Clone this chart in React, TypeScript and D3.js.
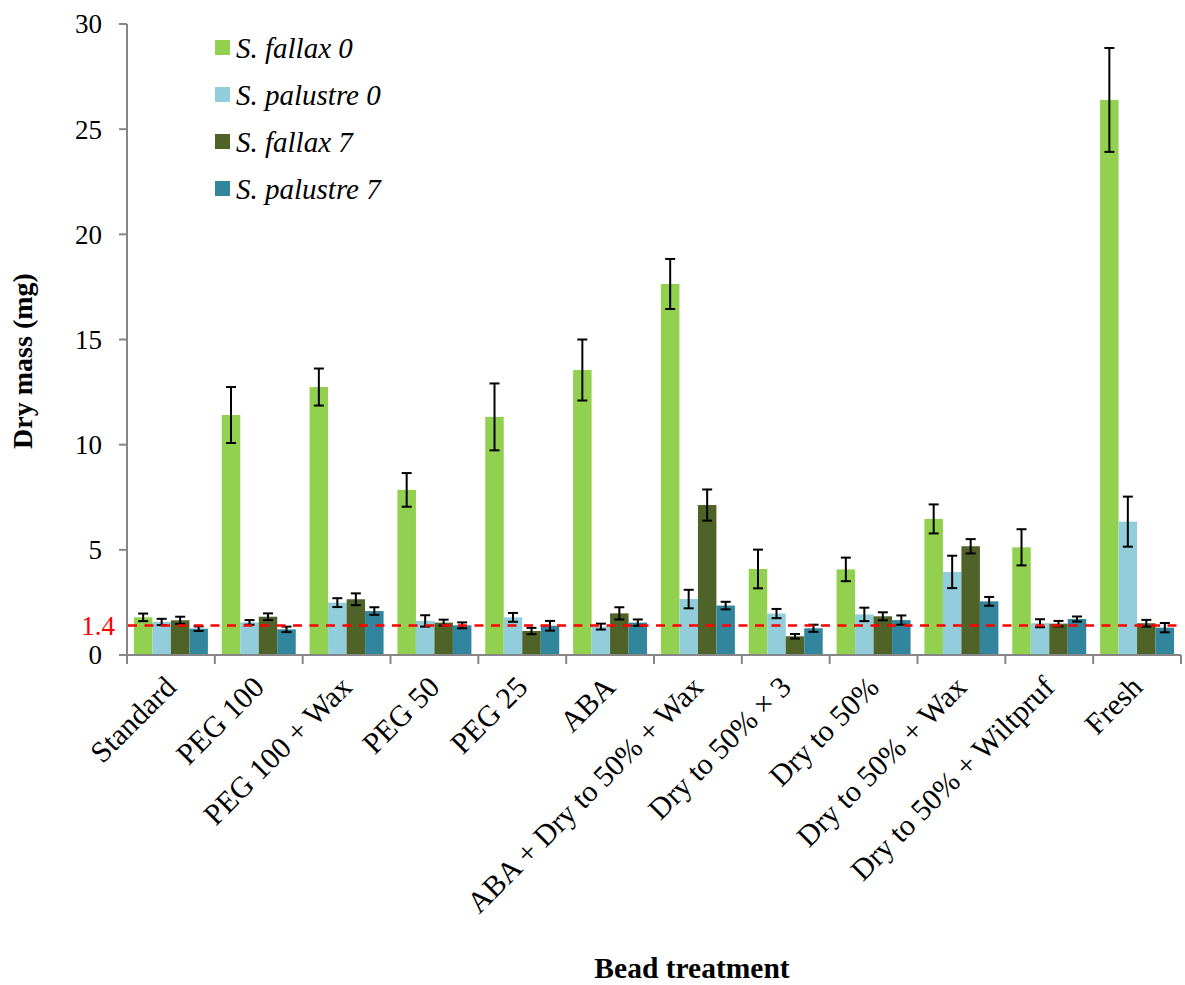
import React, { useEffect, useRef } from "react";
import * as d3 from "d3";

const categories = [
  "Standard", "PEG 100", "PEG 100 + Wax", "PEG 50", "PEG 25", "ABA",
  "ABA + Dry to 50% + Wax", "Dry to 50% × 3", "Dry to 50%", "Dry to 50% + Wax",
  "Dry to 50% + Wiltpruf", "Fresh",
];

const seriesNames = ["S. fallax 0", "S. palustre 0", "S. fallax 7", "S. palustre 7"];
const seriesColors = ["#92d050", "#92cddc", "#4f6228", "#31859c"];

const fallax0 = [1.79, 11.41, 12.74, 7.85, 11.32, 13.55, 17.64, 4.09, 4.07, 6.47, 5.12, 26.39];
const fallax0Err = [0.18, 1.33, 0.88, 0.8, 1.59, 1.45, 1.19, 0.92, 0.56, 0.69, 0.86, 2.47];
const palustre0 = [1.57, 1.55, 2.49, 1.62, 1.79, 1.35, 2.66, 1.97, 1.93, 3.95, 1.51, 6.34];
const palustre0Err = [0.15, 0.11, 0.21, 0.27, 0.21, 0.14, 0.44, 0.22, 0.32, 0.77, 0.19, 1.19];
const fallax7 = [1.65, 1.82, 2.65, 1.54, 1.14, 1.98, 7.13, 0.89, 1.84, 5.17, 1.49, 1.51];
const fallax7Err = [0.17, 0.16, 0.28, 0.14, 0.15, 0.29, 0.74, 0.11, 0.19, 0.34, 0.13, 0.16];
const palustre7 = [1.25, 1.22, 2.09, 1.41, 1.39, 1.54, 2.35, 1.27, 1.66, 2.55, 1.71, 1.3];
const palustre7Err = [0.11, 0.13, 0.18, 0.14, 0.23, 0.15, 0.18, 0.17, 0.22, 0.21, 0.12, 0.22];

const yTicks = [0, 5, 10, 15, 20, 25, 30];
const threshold = 1.4;

const values = [fallax0, palustre0, fallax7, palustre7];
const errors = [fallax0Err, palustre0Err, fallax7Err, palustre7Err];

export default function App() {
  const ref = useRef<SVGSVGElement>(null);

  useEffect(() => {
    const svg = d3.select(ref.current);
    svg.selectAll("*").remove();

    const left = 127, right = 1181, top = 24, bottom = 655;
    const font = "'Liberation Serif', 'Times New Roman', serif";
    const axisColor = "#868686";

    const x = d3.scaleBand<string>().domain(categories).range([left, right]).paddingInner(0).paddingOuter(0);
    const inner = d3.scaleBand<number>().domain([0, 1, 2, 3]).range([0, x.bandwidth()]).paddingOuter(0.375).paddingInner(0);
    const y = d3.scaleLinear().domain([0, 30]).range([bottom, top]);

    // bars
    values.forEach((vals, s) => {
      svg.append("g")
        .selectAll("rect")
        .data(vals)
        .enter()
        .append("rect")
        .attr("x", (d, i) => x(categories[i])! + inner(s)!)
        .attr("y", d => y(d))
        .attr("width", inner.bandwidth())
        .attr("height", d => y(0) - y(d))
        .attr("fill", seriesColors[s]);
    });

    // error bars
    values.forEach((vals, s) => {
      const g = svg.append("g").attr("stroke", "#000").attr("stroke-width", 2);
      vals.forEach((v, i) => {
        const cx = x(categories[i])! + inner(s)! + inner.bandwidth() / 2;
        const e = errors[s][i];
        g.append("line").attr("x1", cx).attr("x2", cx).attr("y1", y(v + e)).attr("y2", y(v - e));
        g.append("line").attr("x1", cx - 5).attr("x2", cx + 5).attr("y1", y(v + e)).attr("y2", y(v + e));
        g.append("line").attr("x1", cx - 5).attr("x2", cx + 5).attr("y1", y(v - e)).attr("y2", y(v - e));
      });
    });

    // axes
    svg.append("line").attr("x1", left).attr("x2", left).attr("y1", top).attr("y2", bottom)
      .attr("stroke", axisColor).attr("stroke-width", 2);
    svg.append("line").attr("x1", left).attr("x2", right).attr("y1", bottom).attr("y2", bottom)
      .attr("stroke", axisColor).attr("stroke-width", 2);

    yTicks.forEach(t => {
      svg.append("line").attr("x1", left - 8).attr("x2", left).attr("y1", y(t)).attr("y2", y(t))
        .attr("stroke", axisColor).attr("stroke-width", 2);
      svg.append("text").attr("x", 102).attr("y", y(t)).attr("dy", "0.35em")
        .attr("text-anchor", "end").attr("font-family", font).attr("font-size", 27)
        .text(t);
    });

    const xEdges = categories.map(c => x(c)!).concat([right]);
    xEdges.forEach(px => {
      svg.append("line").attr("x1", px).attr("x2", px).attr("y1", bottom).attr("y2", bottom + 9)
        .attr("stroke", axisColor).attr("stroke-width", 2);
    });

    categories.forEach(c => {
      const cx = x(c)! + x.bandwidth() / 2;
      svg.append("text")
        .attr("transform", `translate(${cx + 7},${bottom + 34}) rotate(-45)`)
        .attr("text-anchor", "end")
        .attr("font-family", font).attr("font-size", 30)
        .text(c);
    });

    // threshold line
    svg.append("line").attr("x1", left + 1).attr("x2", right).attr("y1", y(threshold)).attr("y2", y(threshold))
      .attr("stroke", "#ff0000").attr("stroke-width", 2.5).attr("stroke-dasharray", "9,7.5");
    svg.append("text").attr("x", 115).attr("y", y(threshold)).attr("dy", "0.35em")
      .attr("text-anchor", "end").attr("font-family", font).attr("font-size", 27)
      .attr("fill", "#ff0000").text(threshold);

    // titles
    svg.append("text")
      .attr("transform", `translate(32,361) rotate(-90)`)
      .attr("text-anchor", "middle").attr("font-family", font).attr("font-size", 28)
      .attr("font-weight", "bold").text("Dry mass (mg)");
    svg.append("text").attr("x", 692).attr("y", 978)
      .attr("text-anchor", "middle").attr("font-family", font).attr("font-size", 29.5)
      .attr("font-weight", "bold").text("Bead treatment");

    // legend
    seriesNames.forEach((name, i) => {
      const cy = 47.5 + i * 47;
      svg.append("rect").attr("x", 215).attr("y", cy - 7.5).attr("width", 15).attr("height", 15)
        .attr("fill", seriesColors[i]);
      svg.append("text").attr("x", 236).attr("y", cy).attr("dy", "0.35em")
        .attr("font-family", font).attr("font-size", 29).attr("font-style", "italic")
        .text(name);
    });
  }, []);

  return (
    <svg ref={ref} width={1185} height={985} style={{ position: "absolute", left: 0, top: 0, background: "#fff" }} />
  );
}
